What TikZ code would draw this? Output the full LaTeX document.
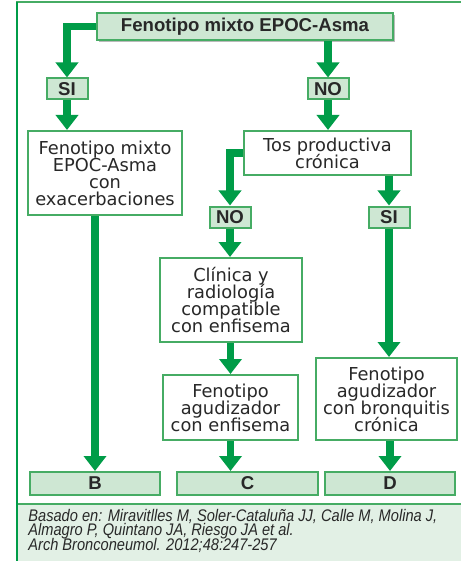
\documentclass[tikz,border=0pt]{standalone}
\usepackage{fontspec}
\setmainfont{DejaVu Sans}
\newfontfamily\labelfont{Liberation Sans}
\newfontfamily\notefont[FakeStretch=0.87]{Liberation Sans}
\usetikzlibrary{arrows.meta}
\usetikzlibrary{shadows}
\definecolor{flowgreen}{RGB}{0,156,72}
\definecolor{edgegreen}{RGB}{70,172,100}
\definecolor{labelfill}{RGB}{206,231,211}
\definecolor{notefill}{RGB}{226,240,229}
\definecolor{inkgray}{RGB}{40,40,40}
\tikzstyle{box}=[draw=edgegreen, line width=1pt, fill=white, inner sep=0pt, align=center, text=inkgray,
  font=\fontsize{8.9}{8.5}\selectfont]
\tikzstyle{answer}=[box, fill=labelfill, font=\labelfont\bfseries\fontsize{9.3}{9}\selectfont]
\tikzstyle{flow}=[draw=flowgreen, line width=3.6pt, -{Triangle[width=11pt,length=7.5pt]}]

\begin{document}
\lineskiplimit=-20pt\relax
\begin{tikzpicture}[x=0.5pt, y=-0.5pt]
  \useasboundingbox (0,0) rectangle (461,561);
  % frame and note area
  \fill[notefill] (17,504) rectangle (461,561);
  \draw[edgegreen, line width=0.6pt] (17,504) -- (461,504);
  \draw[edgegreen, line width=1pt] (16,2.5) -- (461,2.5);
  \draw[flowgreen, line width=1pt] (17,2) -- (17,561);

  \node[answer, minimum width=148pt, minimum height=13.5pt,
        drop shadow={shadow xshift=1.2pt, shadow yshift=-1.2pt, fill=black!45, opacity=0.6}]
        (top) at (245,26.5) {Fenotipo mixto EPOC-Asma};
  \node[answer, minimum width=20.5pt, minimum height=10.5pt] (si1) at (67,89) {SI};
  \node[answer, minimum width=20.5pt, minimum height=10.5pt] (no1) at (328,89) {NO};
  \node[box, minimum width=77pt, minimum height=42pt] (exac) at (105,173)
        {Fenotipo mixto\\EPOC-Asma\\con\\exacerbaciones};
  \node[box, minimum width=83.5pt, minimum height=22pt] (tos) at (327.5,153)
        {Tos productiva\\crónica};
  \node[answer, minimum width=20.5pt, minimum height=10.5pt] (no2) at (230,217) {NO};
  \node[answer, minimum width=20.5pt, minimum height=10.5pt] (si2) at (389,217) {SI};
  \node[box, minimum width=71pt, minimum height=42pt] (clin) at (231,300)
        {Clínica y\\radiología\\compatible\\con enfisema};
  \node[box, minimum width=67.5pt, minimum height=32.5pt] (enf) at (230.5,407.5)
        {Fenotipo\\agudizador\\con enfisema};
  \node[box, minimum width=70.5pt, minimum height=41pt] (bron) at (386.5,399)
        {Fenotipo\\agudizador\\con bronquitis\\crónica};
  \node[answer, minimum width=65pt, minimum height=11.5pt] (B) at (95,483.5) {B};
  \node[answer, minimum width=70.5pt, minimum height=11.5pt] (C) at (247.5,483.5) {C};
  \node[answer, minimum width=65pt, minimum height=11.5pt] (D) at (390,483.5) {D};

  % arrows
  \draw[flow] (top.west) -| (si1.north);
  \draw[flow] (no1.north |- top.south) -- (no1.north);
  \draw[flow] (si1.south) -- (si1.south |- exac.north);
  \draw[flow] (no1.south) -- (no1.south |- tos.north);
  \draw[flow] (tos.west) -| (no2.north);
  \draw[flow] (si2.north |- tos.south) -- (si2.north);
  \draw[flow] (no2.south) -- (no2.south |- clin.north);
  \draw[flow] (si2.south) -- (si2.south |- bron.north);
  \draw[flow] (clin.south -| enf.north) -- (enf.north);
  \draw[flow] (B.north |- exac.south) -- (B.north);
  \draw[flow] (enf.south) -- (enf.south |- C.north);
  \draw[flow] (bron.south -| D.north) -- (D.north);

  \node[anchor=north west, inner sep=0pt, align=left, text=inkgray,
        font=\notefont\itshape\fontsize{8.4}{7.2}\selectfont] (ref) at (28,509)
        {Basado en: Miravitlles M, Soler-Cataluña JJ, Calle M, Molina J,\\
         Almagro P, Quintano JA, Riesgo JA et al.\\
         Arch Bronconeumol. 2012;48:247-257};
\end{tikzpicture}
\end{document}
